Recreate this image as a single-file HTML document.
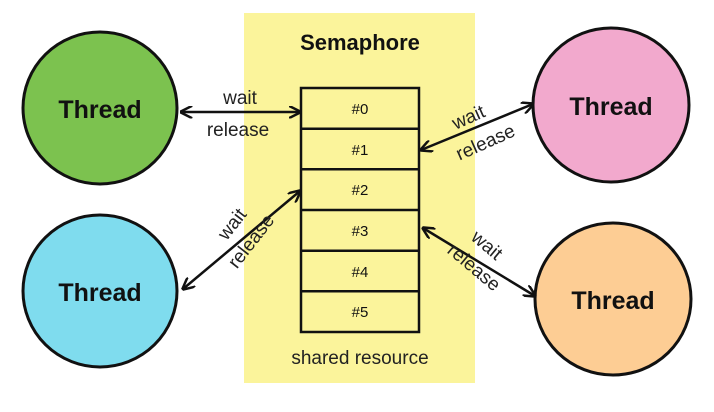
<!DOCTYPE html>
<html><head><style>body{margin:0;background:#fff}svg{display:block}</style></head><body>
<svg width="714" height="412" xmlns="http://www.w3.org/2000/svg" font-family="Liberation Sans, sans-serif">
<defs><marker id="a" viewBox="0 0 10 10" refX="9" refY="5" markerWidth="5" markerHeight="5" orient="auto-start-reverse"><path d="M0,0 L10,5 L0,10" fill="none" stroke="#111" stroke-width="2"/></marker></defs>
<rect x="244" y="13" width="231" height="370" fill="#fbf49b"/>
<text x="360" y="50" text-anchor="middle" font-size="22" font-weight="bold" fill="#111">Semaphore</text>
<g stroke="#111" stroke-width="2.5" fill="none">
<rect x="301" y="88" width="118" height="244"/>
<line x1="301" y1="128.7" x2="419" y2="128.7"/><line x1="301" y1="169.3" x2="419" y2="169.3"/>
<line x1="301" y1="210" x2="419" y2="210"/><line x1="301" y1="250.7" x2="419" y2="250.7"/>
<line x1="301" y1="291.3" x2="419" y2="291.3"/>
</g>
<g font-size="15" text-anchor="middle" fill="#111">
<text x="360" y="114">#0</text><text x="360" y="155">#1</text><text x="360" y="195">#2</text>
<text x="360" y="236">#3</text><text x="360" y="277">#4</text><text x="360" y="317">#5</text>
</g>
<text x="360" y="364" text-anchor="middle" font-size="19" fill="#222">shared resource</text>
<g stroke="#111" stroke-width="3">
<ellipse cx="100" cy="108" rx="77" ry="76" fill="#7cc24f"/>
<ellipse cx="100" cy="291" rx="77" ry="76" fill="#7fdcee"/>
<ellipse cx="611" cy="105" rx="78" ry="77" fill="#f2a9cd"/>
<ellipse cx="613" cy="299" rx="78" ry="76" fill="#fdcd94"/>
</g>
<g font-size="25" font-weight="bold" text-anchor="middle" fill="#111">
<text x="100" y="118">Thread</text><text x="100" y="301">Thread</text>
<text x="611" y="115">Thread</text><text x="613" y="309">Thread</text>
</g>
<g stroke="#111" stroke-width="2.5" marker-start="url(#a)" marker-end="url(#a)">
<line x1="181" y1="112" x2="300" y2="112"/>
<line x1="421" y1="150" x2="533" y2="104"/>
<line x1="300" y1="191" x2="183" y2="289"/>
<line x1="423" y1="228" x2="535" y2="296"/>
</g>
<g font-size="19" fill="#222" text-anchor="middle">
<text x="240" y="104">wait</text><text x="238" y="136">release</text>
<text transform="translate(471,123) rotate(-24)">wait</text>
<text transform="translate(488,148) rotate(-24)">release</text>
<text transform="translate(237,228) rotate(-52)">wait</text>
<text transform="translate(256,245) rotate(-52)">release</text>
<text transform="translate(483,250) rotate(40)">wait</text>
<text transform="translate(470,272) rotate(40)">release</text>
</g>
</svg>
</body></html>
